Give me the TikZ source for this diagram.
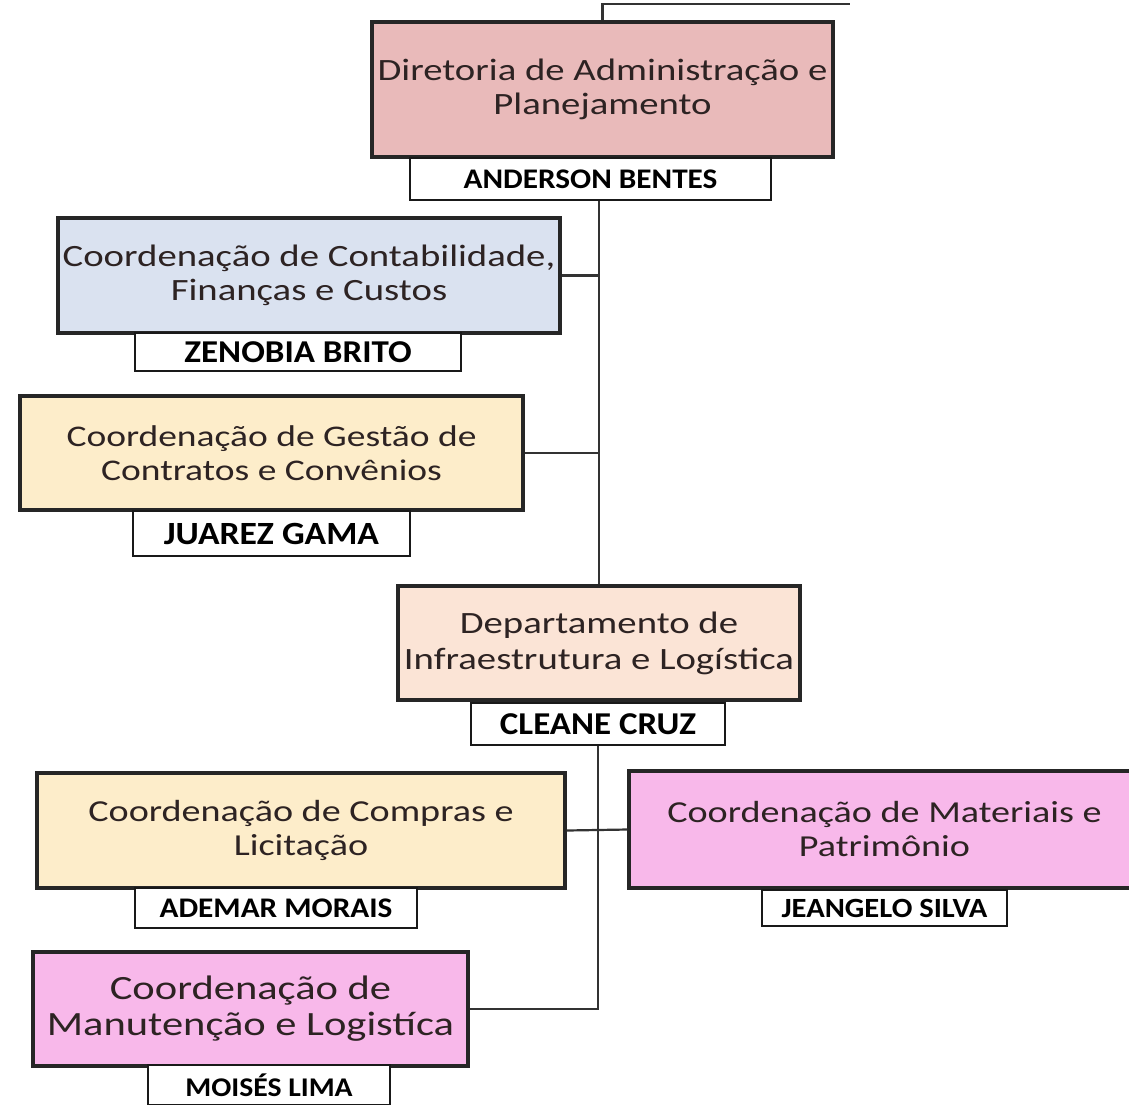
\documentclass[tikz,border=0pt]{standalone}
\usepackage{fontspec}
\newfontfamily\mf{Carlito}[FakeStretch=1.25]
\newfontfamily\nmf{Carlito}[FakeStretch=1.1]
\definecolor{cdir}{RGB}{233,186,186}
\definecolor{cblue}{RGB}{218,226,240}
\definecolor{cyel}{RGB}{253,237,202}
\definecolor{cpeach}{RGB}{251,228,214}
\definecolor{cpink}{RGB}{248,184,234}
\definecolor{txt}{RGB}{45,35,35}
\newcommand{\fs}[2]{\fontsize{#1}{#2}\selectfont}
\tikzset{
  unit/.style={draw=black!85, line width=3.2pt, align=center, inner sep=0pt, text=txt},
  namebox/.style={draw=black!90, line width=2.8pt, fill=white, inner sep=0pt, text=black},
  link/.style={draw=black!80, line width=2.2pt}
}
\begin{document}
\begin{tikzpicture}[x=1pt,y=-1pt]
\clip (0,0) rectangle (1129,1104);
\useasboundingbox (0,0) rectangle (1129,1104);
\coordinate (topend) at (850,4);
% units
\node[unit, fill=cdir, minimum width=461pt, minimum height=135pt, font=\mf\fs{31}{34}] (dir) at (602.5,89.5)
  {Diretoria de Administração e\\Planejamento};
\node[unit, fill=cblue, minimum width=502pt, minimum height=115pt, font=\mf\fs{31}{34}] (cont) at (309,275.5)
  {Coordenação de Contabilidade,\\Finanças e Custos};
\node[unit, fill=cyel, minimum width=503pt, minimum height=114pt, font=\mf\fs{30}{34}] (gest) at (271.5,453)
  {Coordenação de Gestão de\\Contratos e Convênios};
\node[unit, fill=cpeach, minimum width=402pt, minimum height=114pt, font=\mf\fs{31}{36}] (dep) at (599,643)
  {Departamento de\\Infraestrutura e Logística};
\node[unit, fill=cyel, minimum width=528pt, minimum height=115pt, font=\mf\fs{30.5}{34}] (comp) at (301,830.5)
  {Coordenação de Compras e\\Licitação};
\node[unit, fill=cpink, minimum width=511pt, minimum height=117pt, font=\mf\fs{30.5}{34}] (mat) at (884.5,829.5)
  {Coordenação de Materiais e\\Patrimônio};
\node[unit, fill=cpink, minimum width=435pt, minimum height=114pt, font=\mf\fs{34}{36}] (man) at (250.5,1009)
  {Coordenação de\\Manutenção e Logistíca};
% name boxes
\node[namebox, minimum width=361pt, minimum height=42pt, font=\nmf\bfseries\fs{28.4}{30}] (n1) at (590.5,179) {ANDERSON BENTES};
\node[namebox, minimum width=326pt, minimum height=38pt, font=\nmf\bfseries\fs{31.8}{33}] (n2) at (298,352) {ZENOBIA BRITO};
\node[namebox, minimum width=277pt, minimum height=45pt, font=\nmf\bfseries\fs{32.4}{34}] (n3) at (271.5,533.5) {JUAREZ GAMA};
\node[namebox, minimum width=254pt, minimum height=42pt, font=\nmf\bfseries\fs{31.8}{33}] (n4) at (598,724) {CLEANE CRUZ};
\node[namebox, minimum width=282pt, minimum height=40pt, font=\nmf\bfseries\fs{28.4}{30}] (n5) at (276,908) {ADEMAR MORAIS};
\node[namebox, minimum width=245pt, minimum height=36pt, font=\nmf\bfseries\fs{27.8}{30}] (n6) at (884.5,908) {JEANGELO SILVA};
\node[namebox, minimum width=242pt, minimum height=40pt, font=\nmf\bfseries\fs{27}{29}] (n7) at (269,1085) {MOISÉS LIMA};
% links
\draw[link] (dir.north) |- (topend);
\draw[link] (n1.south -| dep.north) -- (dep.north);
\draw[link] (cont.east) -- (cont.east -| dep.north);
\draw[link] (gest.east) -- (gest.east -| dep.north);
\draw[link] (n4.south) |- (man.east);
\draw[link] (comp.east) -- (mat.west);
\end{tikzpicture}
\end{document}
